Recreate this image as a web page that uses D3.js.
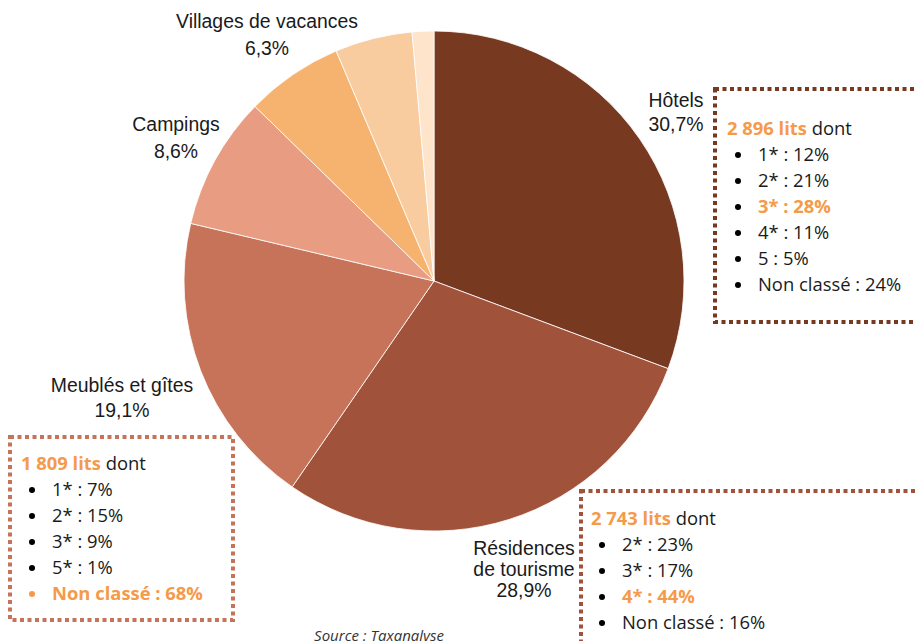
<!DOCTYPE html>
<html>
<head>
<meta charset="utf-8">
<script src="https://cdn.jsdelivr.net/npm/d3@7"></script>
<style>
  body { margin: 0; background: #fff; }
  svg { display: block; }
  .plabel { font-family: "Liberation Sans", Arial, sans-serif; font-size: 19.4px; fill: #1a1a1a; }
  .box text { font-family: "Open Sans", sans-serif; font-size: 18.4px; fill: #1a1a1a; }
  .source { font-family: "Open Sans", sans-serif; font-size: 15px; font-style: italic; fill: #333; }
</style>
</head>
<body>
<svg width="915" height="641"></svg>
<script>
// hébergements marchands : part des lits par type
const categories = ['Hôtels', 'Résidences de tourisme', 'Meublés et gîtes', 'Campings', 'Villages de vacances', 'Autres', 'Divers'];
const shares = [30.7, 28.9, 19.1, 8.6, 6.3, 5.0, 1.4];
const sliceColors = ['#783921', '#a0533a', '#c6735a', '#e89c82', '#f5b36f', '#f8cc9f', '#fde4ca'];

// détail des classements (lits, puis % par catégorie)
const hotelBeds = '2 896 lits';
const hotelStars = ['1*', '2*', '3*', '4*', '5', 'Non classé'];
const hotelPct = [12, 21, 28, 11, 5, 24];
const residenceBeds = '2 743 lits';
const residenceStars = ['2*', '3*', '4*', 'Non classé'];
const residencePct = [23, 17, 44, 16];
const meubleBeds = '1 809 lits';
const meubleStars = ['1*', '2*', '3*', '5*', 'Non classé'];
const meublePct = [7, 15, 9, 1, 68];

const orange = '#f59a4a';
const svg = d3.select('svg');

const cx = 434, cy = 281, radius = 250;

const pie = d3.pie().sort(null).value(d => d.value);
const arc = d3.arc().innerRadius(0).outerRadius(radius);
const slices = pie(categories.map((c, i) => ({ name: c, value: shares[i], color: sliceColors[i] })));

const chart = svg.append('g').attr('transform', `translate(${cx}, ${cy})`);

chart.selectAll('path')
  .data(slices)
  .enter()
  .append('path')
  .attr('d', arc)
  .attr('fill', d => d.data.color)
  .attr('stroke', '#fff')
  .attr('stroke-width', 0.8);

// étiquettes (lignes, centre x, lignes de base y)
const labelLayout = [
  { lines: ['Hôtels'], x: 676, y: [107, 131] },
  { lines: ['Résidences', 'de tourisme'], x: 524, y: [555, 576, 597] },
  { lines: ['Meublés et gîtes'], x: 122, y: [392, 417] },
  { lines: ['Campings'], x: 176, y: [131, 158] },
  { lines: ['Villages de vacances'], x: 267, y: [28, 55] }
];

labelLayout.forEach((l, i) => {
  const text = l.lines.concat([String(shares[i]).replace('.', ',') + '%']);
  text.forEach((t, j) => {
    svg.append('text')
      .attr('class', 'plabel')
      .attr('x', l.x)
      .attr('y', l.y[j])
      .attr('text-anchor', 'middle')
      .text(t);
  });
});

function drawBox(opt) {
  const g = svg.append('g').attr('class', 'box');
  g.append('rect')
    .attr('x', opt.x)
    .attr('y', opt.y)
    .attr('width', opt.w)
    .attr('height', opt.h)
    .attr('fill', 'none')
    .attr('stroke', opt.color)
    .attr('stroke-width', 4)
    .attr('stroke-dasharray', '4 3.5');

  const title = g.append('text').attr('x', opt.tx).attr('y', opt.ty);
  title.append('tspan').style('fill', orange).style('font-weight', 700).text(opt.beds);
  title.append('tspan').text(' dont');

  opt.stars.forEach((s, i) => {
    const y = opt.ty + opt.step * (i + 1);
    const hi = i === opt.hi;
    g.append('circle')
      .attr('cx', opt.tx + 11)
      .attr('cy', y - 6)
      .attr('r', 3)
      .attr('fill', hi && opt.hiBullet ? orange : '#000');
    g.append('text')
      .attr('x', opt.tx + 31)
      .attr('y', y)
      .style('fill', hi ? orange : null)
      .style('font-weight', hi ? 700 : null)
      .text(`${s} : ${opt.pct[i]}%`);
  });
}

drawBox({ x: 715, y: 89, w: 230, h: 233, color: sliceColors[0], tx: 727, ty: 135, step: 26,
  beds: hotelBeds, stars: hotelStars, pct: hotelPct, hi: 2, hiBullet: false });

drawBox({ x: 581, y: 491, w: 360, h: 200, color: sliceColors[1], tx: 591, ty: 525, step: 26,
  beds: residenceBeds, stars: residenceStars, pct: residencePct, hi: 2, hiBullet: false });

drawBox({ x: 10, y: 437, w: 223, h: 183, color: sliceColors[2], tx: 21, ty: 470, step: 26,
  beds: meubleBeds, stars: meubleStars, pct: meublePct, hi: 4, hiBullet: true });

svg.append('text')
  .attr('class', 'source')
  .attr('x', 379)
  .attr('y', 641)
  .attr('text-anchor', 'middle')
  .text('Source : Taxanalyse');
</script>
</body>
</html>
